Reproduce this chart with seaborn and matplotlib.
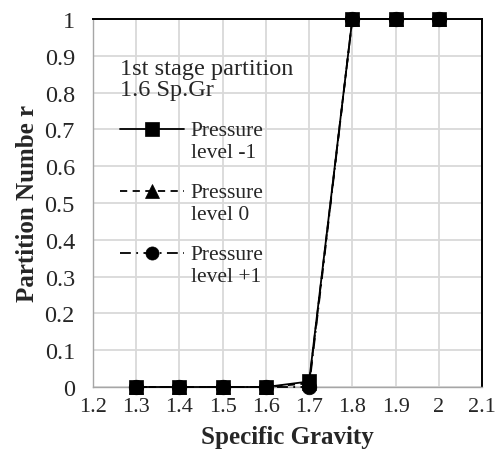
import matplotlib
matplotlib.use("Agg")
import matplotlib.pyplot as plt
from matplotlib.legend_handler import HandlerLine2D
import seaborn as sns
import pandas as pd
import numpy as np

sg = [1.3, 1.4, 1.5, 1.6, 1.7, 1.8, 1.9, 2.0]
level_m1 = [0, 0, 0, 0, 0.015, 1, 1, 1]
level_0 = [0, 0, 0, 0, 0.01, 1, 1, 1]
level_p1 = [0, 0, 0, 0, 0.0, 1, 1, 1]
labels = ["Pressure\nlevel -1", "Pressure\nlevel 0", "Pressure\nlevel +1"]

df = pd.concat([
    pd.DataFrame({"sg": sg, "p": level_m1, "s": labels[0]}),
    pd.DataFrame({"sg": sg, "p": level_0, "s": labels[1]}),
    pd.DataFrame({"sg": sg, "p": level_p1, "s": labels[2]}),
])

sns.set_style("white")
plt.rcParams['font.family'] = ['Liberation Serif', 'DejaVu Serif']

fig = plt.figure(figsize=(4.96, 4.6), dpi=100)
ax = fig.add_axes([93/496, 72/460, 389/496, 368/460])

sns.lineplot(data=df, x="sg", y="p", hue="s", style="s",
             palette=["black"]*3,
             dashes={labels[0]: "", labels[1]: (4, 3), labels[2]: (6, 3, 1, 3)},
             markers={labels[0]: "s", labels[1]: "^", labels[2]: "o"},
             markersize=10.5, markeredgecolor="black", markeredgewidth=0.5,
             linewidth=1.3, ax=ax, sort=False, legend=True)

# first series drawn on top
for i, ln in enumerate(ax.lines[:3]):
    ln.set_zorder(5 - i)
    ln.set_clip_on(False)

ax.set_xlim(1.2, 2.1)
ax.set_ylim(0, 1)
ax.set_xticks([1.2, 1.3, 1.4, 1.5, 1.6, 1.7, 1.8, 1.9, 2.0, 2.1])
ax.set_xticklabels(["1.2", "1.3", "1.4", "1.5", "1.6", "1.7", "1.8", "1.9", "2", "2.1"])
ax.set_yticks([i/10 for i in range(11)])
ax.set_yticklabels(["0"] + ["0.%d" % i for i in range(1, 10)] + ["1"])
ax.tick_params(axis="x", labelsize=16, length=0, pad=7)
ax.tick_params(axis="y", labelsize=17.5, length=0, pad=13)
ax.grid(True, color="#d9d9d9", linewidth=1.3)
ax.set_axisbelow(True)
for s in ["top", "right"]:
    ax.spines[s].set_color("black")
    ax.spines[s].set_linewidth(1.4)
for s in ["left", "bottom"]:
    ax.spines[s].set_color("#a6a6a6")
    ax.spines[s].set_linewidth(1.0)

ax.set_xlabel("Specific Gravity", fontsize=18, fontweight="bold", labelpad=7)
ax.set_ylabel("Partition Numbe r", fontsize=18, fontweight="bold", labelpad=4)


class TopHandler(HandlerLine2D):
    def create_artists(self, legend, orig_handle, xdescent, ydescent,
                       width, height, fontsize, trans):
        arts = super().create_artists(legend, orig_handle, xdescent, ydescent,
                                      width, height, fontsize, trans)
        for a in arts:
            a.set_ydata(np.asarray(a.get_ydata()) + 0.55 * fontsize)
        return arts


handles, labs = ax.get_legend_handles_labels()
leg = ax.legend(handles, labs, title="1st stage partition\n1.6 Sp.Gr",
                loc="upper left", bbox_to_anchor=(0.069, 0.895),
                frameon=False, fontsize=15.5, title_fontsize=17.5,
                labelspacing=0.95, handlelength=3.0, handletextpad=0.3,
                borderpad=0, borderaxespad=0, markerscale=0.9,
                handler_map={h: TopHandler() for h in handles})
leg._legend_box.align = "left"
leg.get_title().set_linespacing(1.05)
for t in leg.get_texts():
    t.set_linespacing(1.25)

fig.savefig("out.png", dpi=100)
